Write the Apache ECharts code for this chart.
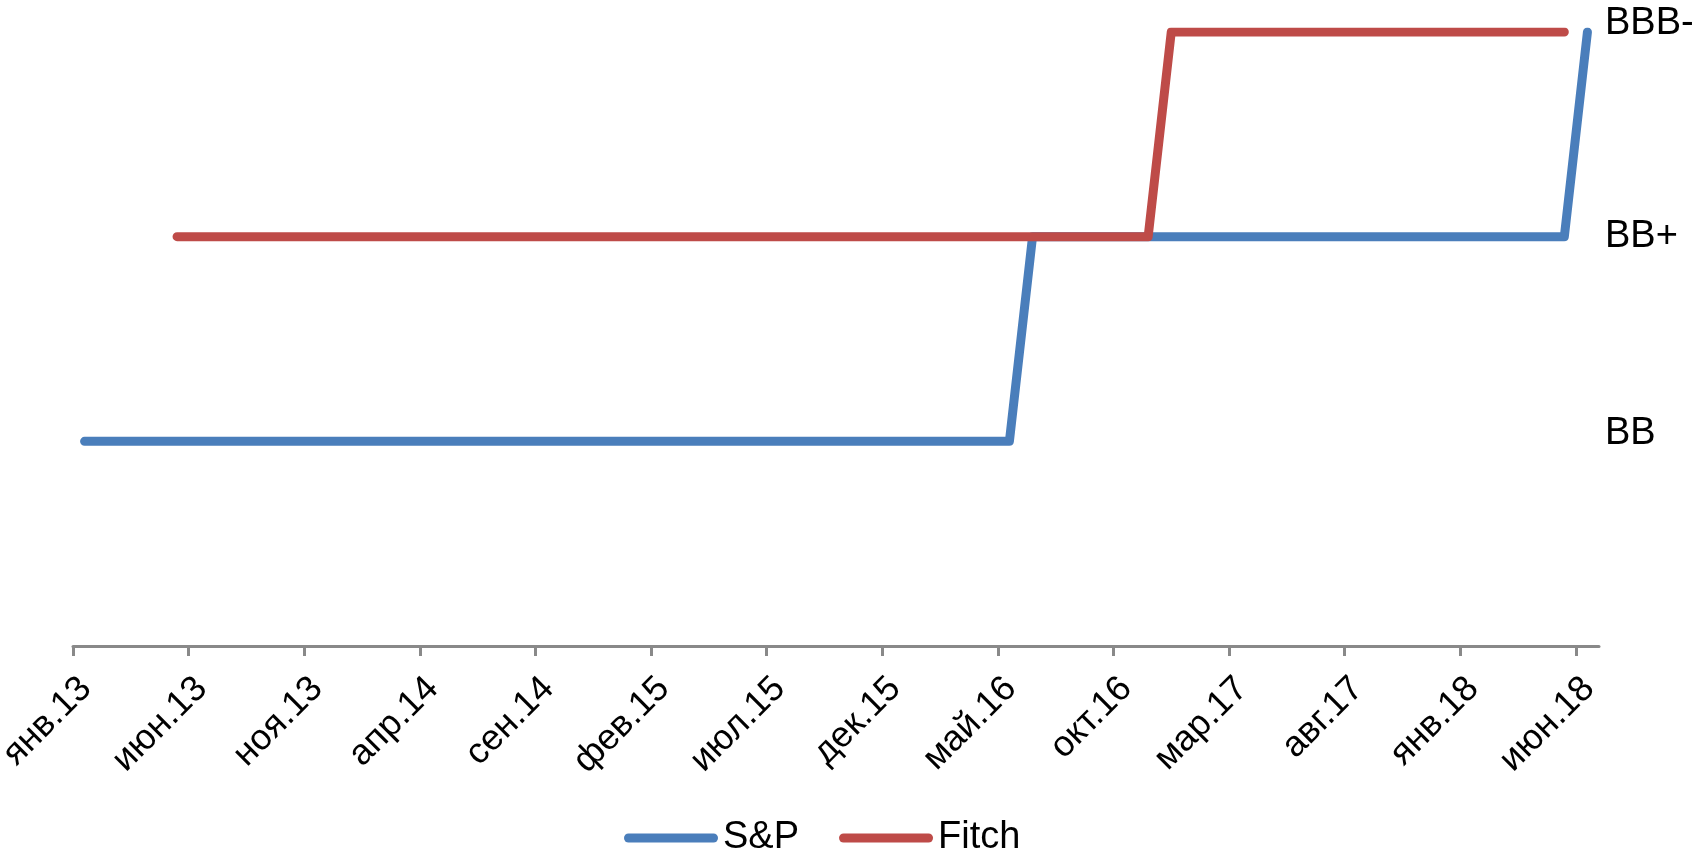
<!DOCTYPE html>
<html>
<head>
<meta charset="utf-8">
<script src="https://cdn.jsdelivr.net/npm/echarts@6/dist/echarts.min.js"></script>
<style>
html,body{margin:0;padding:0;background:#fff;}
#chart{width:1696px;height:853px;}
</style>
</head>
<body>
<div id="chart"></div>
<script>
// Category months (янв.13 … июн.18)
const months = [
  'янв.13','фев.13','мар.13','апр.13','май.13','июн.13','июл.13','авг.13','сен.13','окт.13','ноя.13','дек.13',
  'янв.14','фев.14','мар.14','апр.14','май.14','июн.14','июл.14','авг.14','сен.14','окт.14','ноя.14','дек.14',
  'янв.15','фев.15','мар.15','апр.15','май.15','июн.15','июл.15','авг.15','сен.15','окт.15','ноя.15','дек.15',
  'янв.16','фев.16','мар.16','апр.16','май.16','июн.16','июл.16','авг.16','сен.16','окт.16','ноя.16','дек.16',
  'янв.17','фев.17','мар.17','апр.17','май.17','июн.17','июл.17','авг.17','сен.17','окт.17','ноя.17','дек.17',
  'янв.18','фев.18','мар.18','апр.18','май.18','июн.18'
];
// Month boundaries for tick marks (one more than months)
const monthBoundaries = months.concat(['июл.18']);

// Rating scale labels (value -> label)
const ratingLabels = ['', 'BB', 'BB+', 'BBB-'];

// S&P rating (1 = BB, 2 = BB+, 3 = BBB-)
const spData = [
  1,1,1,1,1,1,1,1,1,1,1,1,
  1,1,1,1,1,1,1,1,1,1,1,1,
  1,1,1,1,1,1,1,1,1,1,1,1,
  1,1,1,1,1,2,2,2,2,2,2,2,
  2,2,2,2,2,2,2,2,2,2,2,2,
  2,2,2,2,2,3
];
// Fitch rating
const fitchData = [
  null,null,null,null,2,2,2,2,2,2,2,2,
  2,2,2,2,2,2,2,2,2,2,2,2,
  2,2,2,2,2,2,2,2,2,2,2,2,
  2,2,2,2,2,2,2,2,2,2,2,3,
  3,3,3,3,3,3,3,3,3,3,3,3,
  3,3,3,3,3,null
];

const FONT = 'Liberation Sans, Arial, sans-serif';
const AXIS_GRAY = '#898989';
const gridBox = { left: 73, right: 97, top: 32, bottom: 207, containLabel: false, outerBoundsMode: 'none' };

const chart = echarts.init(document.getElementById('chart'));
chart.setOption({
  animation: false,
  backgroundColor: '#ffffff',
  textStyle: { fontFamily: FONT },
  grid: [
    Object.assign({}, gridBox),
    Object.assign({}, gridBox)
  ],
  legend: {
    left: 619,
    top: 814,
    itemWidth: 94,
    itemHeight: 9,
    itemGap: 40,
    icon: 'path://M4.5,0H89.5A4.5,4.5,0,0,1,89.5,9H4.5A4.5,4.5,0,0,1,4.5,0Z',
    textStyle: { fontSize: 38, color: '#000', fontFamily: FONT, lineHeight: 38 },
    data: ['S&P', 'Fitch']
  },
  xAxis: [
    {
      type: 'category',
      gridIndex: 0,
      data: months,
      boundaryGap: true,
      axisLine: { show: true, lineStyle: { color: AXIS_GRAY, width: 3 } },
      axisTick: { show: false },
      axisLabel: {
        interval: 4,
        rotate: 45,
        align: 'right',
        verticalAlign: 'top',
        margin: 13,
        padding: [0, 16, 0, 0],
        fontSize: 36,
        color: '#000',
        fontFamily: FONT
      },
      splitLine: { show: false }
    },
    {
      type: 'category',
      gridIndex: 1,
      data: monthBoundaries,
      boundaryGap: false,
      axisLine: { show: false },
      axisTick: { show: true, interval: 4, length: 10, lineStyle: { color: AXIS_GRAY, width: 3 } },
      axisLabel: { show: false },
      splitLine: { show: false }
    }
  ],
  yAxis: [
    {
      type: 'value',
      gridIndex: 0,
      position: 'right',
      min: 0,
      max: 3,
      interval: 1,
      axisLine: { show: false },
      axisTick: { show: false },
      splitLine: { show: false },
      axisLabel: {
        margin: 6,
        fontSize: 38,
        color: '#000',
        fontFamily: FONT,
        formatter: function (v) {
          const lbl = ratingLabels[v] || '';
          if (!lbl) return '';
          if (lbl === 'BB+') return '{mid|' + lbl + '}';
          return '{up|' + lbl + '}';
        },
        rich: {
          up: { fontSize: 38, fontFamily: FONT, color: '#000', padding: [0, 0, 16, 0] },
          mid: { fontSize: 38, fontFamily: FONT, color: '#000' }
        }
      }
    },
    {
      type: 'value',
      gridIndex: 1,
      show: false,
      min: 0,
      max: 3
    }
  ],
  series: [
    {
      name: 'S&P',
      type: 'line',
      xAxisIndex: 0,
      yAxisIndex: 0,
      data: spData,
      symbol: 'none',
      showSymbol: false,
      color: '#4A7EBB',
      lineStyle: { color: '#4A7EBB', width: 9, cap: 'round', join: 'round' },
      connectNulls: false
    },
    {
      name: 'Fitch',
      type: 'line',
      xAxisIndex: 0,
      yAxisIndex: 0,
      data: fitchData,
      symbol: 'none',
      showSymbol: false,
      color: '#BE4B48',
      lineStyle: { color: '#BE4B48', width: 9, cap: 'round', join: 'round' },
      connectNulls: false
    }
  ]
});
</script>
</body>
</html>
